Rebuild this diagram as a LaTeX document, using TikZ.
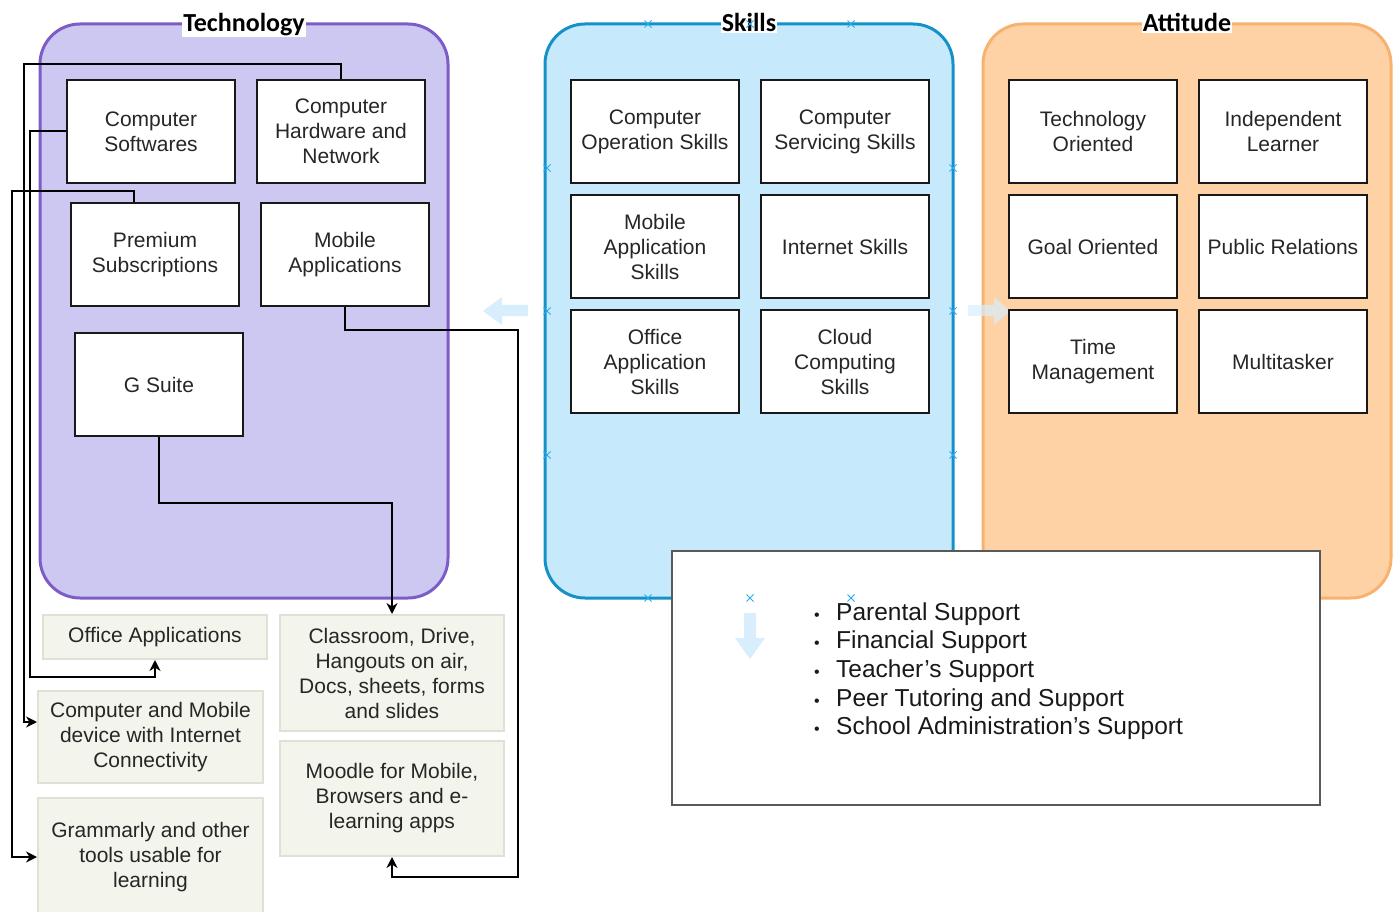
\documentclass[tikz,border=0pt]{standalone}
\usepackage{fontspec}
\setmainfont{Liberation Sans}
\newfontfamily\titlefont{Carlito}
\usetikzlibrary{arrows.meta}

\definecolor{techfill}{RGB}{204,200,242}
\definecolor{techline}{RGB}{126,92,200}
\definecolor{skillfill}{RGB}{198,233,252}
\definecolor{skillline}{RGB}{20,146,200}
\definecolor{attfill}{RGB}{255,210,165}
\definecolor{attline}{RGB}{248,178,112}
\definecolor{notefill}{RGB}{243,245,236}
\definecolor{noteline}{RGB}{222,226,212}
\definecolor{ghost}{RGB}{216,238,252}
\definecolor{xmark}{RGB}{40,170,235}

\newcommand{\blt}{\makebox[22pt][l]{\fontsize{16}{16}\selectfont\textbullet}}

\begin{document}
\begin{tikzpicture}[x=1pt,y=-1pt]
        \tikzstyle{panel}=[line width=3pt, rounded corners=40pt]
        \tikzstyle{ttl}=[fill=white, inner sep=1pt, anchor=base, font=\titlefont\bfseries\fontsize{26}{28}\selectfont]
        \tikzstyle{box}=[draw=black!90, fill=white, line width=2.6pt, minimum width=168pt, minimum height=103pt, align=center, text=black!85, font=\fontsize{21}{25}\selectfont]
        \tikzstyle{note}=[draw=noteline, fill=notefill, line width=2pt, minimum width=225pt, align=center, text=black!85, font=\fontsize{21}{25}\selectfont]
        \tikzstyle{conn}=[line width=2pt, -{Stealth[length=11pt,width=11pt]}]
        \tikzstyle{bul}=[anchor=base west, inner sep=0pt, text=black!90, font=\fontsize{24.5}{28}\selectfont]

        \useasboundingbox (0,0) rectangle (1393,912);

        \draw[panel, draw=techline, fill=techfill]   (40,24)  rectangle (448,598);
        \draw[panel, draw=skillline, fill=skillfill] (545,24) rectangle (953,598);
        \draw[panel, draw=attline, fill=attfill]     (983,24) rectangle (1391,598);
        \node[ttl] (ttech)  at (244,32)  {Technology};
        \node[ttl] (tskill) at (749,32)  {Skills};
        \node[ttl] (tatt)   at (1187,32) {Attitude};

        \fill[ghost] (528,305) -- (502,305) -- (502,297) -- (483,311) -- (502,325) -- (502,316) -- (528,316) -- cycle;
        \fill[ghost, fill opacity=0.7] (968,305) -- (994,305) -- (994,297) -- (1010,311) -- (994,325) -- (994,316) -- (968,316) -- cycle;

        \node[box] (cs)  at (151,131.5) {Computer\\Softwares};
        \node[box] (chn) at (341,131.5) {Computer\\Hardware and\\Network};
        \node[box] (ps)  at (155,254.5) {Premium\\Subscriptions};
        \node[box] (ma)  at (345,254.5) {Mobile\\Applications};
        \node[box] (gs)  at (159,384.5) {G Suite};

        \node[box] (cos) at (655,131.5) {Computer\\Operation Skills};
        \node[box] (css) at (845,131.5) {Computer\\Servicing Skills};
        \node[box] (mas) at (655,246.5) {Mobile\\Application\\Skills};
        \node[box] (ins) at (845,246.5) {Internet Skills};
        \node[box] (oas) at (655,361.5) {Office\\Application\\Skills};
        \node[box] (ccs) at (845,361.5) {Cloud\\Computing\\Skills};

        \node[box] (to)  at (1093,131.5) {Technology\\Oriented};
        \node[box] (il)  at (1283,131.5) {Independent\\Learner};
        \node[box] (go)  at (1093,246.5) {Goal Oriented};
        \node[box] (pr)  at (1283,246.5) {Public Relations};
        \node[box] (tm)  at (1093,361.5) {Time\\Management};
        \node[box] (mt)  at (1283,361.5) {Multitasker};

        \node[note, minimum width=224pt, minimum height=44pt] (oa) at (155,637) {Office Applications};
        \node[note, minimum height=92pt]  (cmd) at (150.5,737) {Computer and Mobile\\device with Internet\\Connectivity};
        \node[note, minimum height=118pt] (gr)  at (150.5,857) {Grammarly and other\\tools usable for\\learning};
        \node[note, minimum width=224pt, minimum height=116pt] (cl) at (392,673) {Classroom, Drive,\\Hangouts on air,\\Docs, sheets, forms\\and slides};
        \node[note, minimum width=224pt, minimum height=115pt] (mo) at (392,798.5) {Moodle for Mobile,\\Browsers and e-\\learning apps};

        \draw[conn] (chn.north) -- (341,64) -- (24,64) |- ([yshift=15pt]cmd.west);
        \draw[conn] (cs.west) -- (30,131.5) -- (30,677) -| (oa.south);
        \draw[conn] ([xshift=-21pt]ps.north) |- (12,191) |- (gr.west);
        \draw[conn] (gs.south) -- (159,503) -| (cl.north);
        \draw[conn] (ma.south) -- (345,330) -- (518,330) -- (518,877) -| (mo.south);

        \draw[draw=black!65, fill=white, line width=2pt] (672,551) rectangle (1320,805);
        \fill[ghost] (744,613) -- (756,613) -- (756,638) -- (765,638) -- (750,659) -- (735,638) -- (744,638) -- cycle;
        \foreach \txt [count=\i] in {Parental Support, Financial Support, Teacher's Support, Peer Tutoring and Support, School Administration's Support}
            \node[bul] (sup\i) at (814,591.3+28.7*\i) {\blt\txt};

        \foreach \p in {(648,24),(750,24),(851,24),(547,168),(547,311),(547,455),(953,168),(953,311),(953,455),(648,598),(750,598),(851,598)}
            \draw[xmark, line width=1pt] \p +(-3.5,-3.5) -- +(3.5,3.5) +(-3.5,3.5) -- +(3.5,-3.5);
    \end{tikzpicture}
\end{document}
